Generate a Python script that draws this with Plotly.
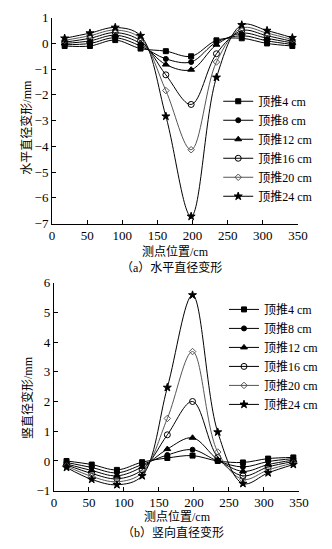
import plotly.graph_objects as go

x_pos = [18, 54, 90, 126, 162, 198, 234, 270, 306, 342]
series_names = ["顶推4 cm", "顶推8 cm", "顶推12 cm", "顶推16 cm", "顶推20 cm", "顶推24 cm"]

h_4 = [-0.10, -0.10, 0.13, -0.20, -0.30, -0.50, 0.12, 0.20, 0.00, -0.10]
h_8 = [-0.05, 0.00, 0.22, -0.10, -0.60, -0.72, 0.05, 0.30, 0.10, -0.04]
h_12 = [0.00, 0.10, 0.32, 0.00, -0.82, -1.02, -0.05, 0.40, 0.20, 0.02]
h_16 = [0.05, 0.20, 0.42, 0.10, -1.22, -2.37, -0.40, 0.50, 0.30, 0.08]
h_20 = [0.12, 0.30, 0.52, 0.20, -1.83, -4.13, -0.72, 0.60, 0.40, 0.15]
h_24 = [0.20, 0.40, 0.62, 0.30, -2.83, -6.72, -1.32, 0.72, 0.50, 0.22]

v_4 = [0.00, -0.12, -0.30, -0.04, 0.10, 0.18, 0.00, -0.05, 0.08, 0.12]
v_8 = [-0.05, -0.22, -0.40, -0.12, 0.20, 0.38, 0.00, -0.20, -0.02, 0.08]
v_12 = [-0.10, -0.32, -0.50, -0.20, 0.40, 0.78, 0.05, -0.35, -0.12, 0.03]
v_16 = [-0.13, -0.42, -0.60, -0.30, 0.88, 2.00, 0.12, -0.50, -0.20, -0.02]
v_20 = [-0.17, -0.52, -0.70, -0.40, 1.43, 3.68, 0.30, -0.62, -0.30, -0.07]
v_24 = [-0.22, -0.62, -0.80, -0.50, 2.47, 5.58, 0.97, -0.76, -0.40, -0.12]

h_series = [h_4, h_8, h_12, h_16, h_20, h_24]
v_series = [v_4, v_8, v_12, v_16, v_20, v_24]

symbols = ["square", "circle", "triangle-up", "circle-open", "diamond-open", "star"]
sizes = [5, 5, 6, 6, 5, 6]
line_colors = ["#000000", "#000000", "#000000", "#000000", "#555555", "#000000"]

FONT = "Liberation Serif, Noto Sans CJK SC"

fig = go.Figure()
for i, name in enumerate(series_names):
    fig.add_trace(go.Scatter(
        x=x_pos, y=h_series[i], name=name, mode="lines+markers",
        line=dict(color=line_colors[i], width=1, shape="spline"),
        marker=dict(symbol=symbols[i], size=sizes[i], color=line_colors[i],
                    line=dict(color=line_colors[i], width=1)),
        xaxis="x", yaxis="y", legend="legend"))
for i, name in enumerate(series_names):
    fig.add_trace(go.Scatter(
        x=x_pos, y=v_series[i], name=name, mode="lines+markers",
        line=dict(color=line_colors[i], width=1, shape="spline"),
        marker=dict(symbol=symbols[i], size=sizes[i], color=line_colors[i],
                    line=dict(color=line_colors[i], width=1)),
        xaxis="x2", yaxis="y2", legend="legend2"))

W, H = 332, 549

def px_x(p):
    return p / W

def px_y(p):
    return 1 - p / H

axis_common = dict(showline=True, linecolor="black", linewidth=1, ticks="inside",
                   ticklen=4, tickcolor="black", showgrid=False, zeroline=False,
                   tickfont=dict(family=FONT, size=13, color="black"))

def ann(text, x, y, angle=0):
    return dict(text=text, x=px_x(x), y=px_y(y), xref="paper", yref="paper",
                xanchor="center", yanchor="middle",
                showarrow=False, textangle=angle,
                font=dict(family=FONT, size=12, color="black"))

fig.update_layout(
    width=W, height=H, margin=dict(l=0, r=0, t=0, b=0),
    paper_bgcolor="white", plot_bgcolor="white",
    font=dict(family=FONT, color="black", size=12),
    xaxis=dict(domain=[px_x(51), px_x(307)], range=[0, 350], dtick=50, anchor="y",
               **axis_common),
    yaxis=dict(domain=[px_y(222.7), px_y(11)], range=[-7, 1], dtick=1, anchor="x",
               **axis_common),
    xaxis2=dict(domain=[px_x(53), px_x(308)], range=[0, 350], dtick=50, anchor="y2",
                **axis_common),
    yaxis2=dict(domain=[px_y(497.3), px_y(283.3)], range=[-1, 6], dtick=1, anchor="x2",
                **axis_common),
    legend=dict(x=px_x(224), y=px_y(82), xanchor="left", yanchor="top",
                bgcolor="rgba(0,0,0,0)", font=dict(family=FONT, size=12),
                itemwidth=30, tracegroupgap=0),
    legend2=dict(x=px_x(230), y=px_y(296), xanchor="left", yanchor="top",
                 bgcolor="rgba(0,0,0,0)", font=dict(family=FONT, size=12),
                 itemwidth=30, tracegroupgap=0),
    annotations=[
        ann("测点位置/cm", 180, 251),
        ann("（a）水平直径变形", 175, 268),
        ann("水平直径变形/mm", 25, 124, -90),
        ann("测点位置/cm", 182, 524),
        ann("（b）竖向直径变形", 177, 540),
        ann("竖直径变形/mm", 25, 402, -90),
    ],
)

fig.write_html("out.html")
